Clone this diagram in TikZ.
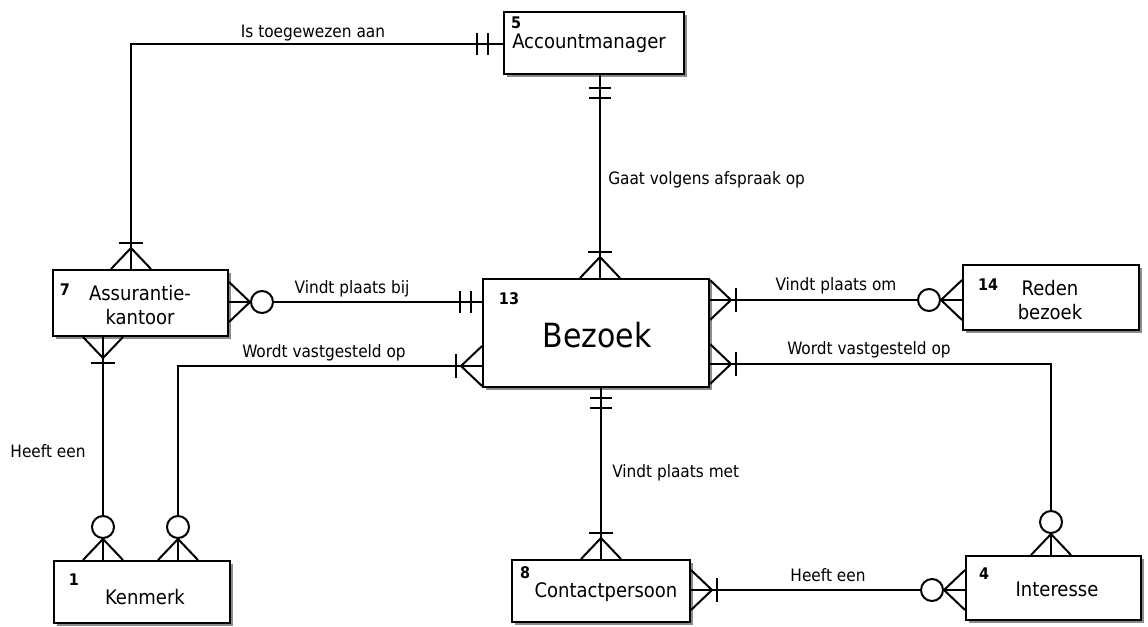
\documentclass[tikz,border=0pt]{standalone}
\usepackage{fontspec}
\setmainfont{DejaVu Sans Condensed}
\usetikzlibrary{shadows}

\tikzset{
  link/.style={line width=1.5pt},
  entity/.style={draw, fill=white, inner sep=0pt, line width=1.5pt,
    drop shadow={shadow xshift=2.6pt, shadow yshift=-2.6pt, fill=black!45, opacity=1}},
  boxsize/.style 2 args={minimum width=#1*0.75pt, minimum height=#2*0.75pt},
  ename/.style={font=\fontsize{15}{18}\selectfont, align=center, inner sep=0pt},
  enum/.style={font=\bfseries\fontsize{12}{14}\selectfont, inner sep=0pt},
  rel/.style={font=\fontsize{12.8}{15}\selectfont, inner sep=0pt},
  % crow's foot with a bar: one or many
  pics/manyone/.style={code={
    \draw[link] (0,-20) -- (21,0) -- (0,20);
    \draw[link] (26,-12) -- (26,12);}},
  % crow's foot with a circle: zero or many
  pics/manyzero/.style={code={
    \draw[link] (0,-20) -- (21,0) -- (0,20);
    \draw[link, fill=white] (33,0) circle[radius=8.25pt];}},
  % two bars: exactly one
  pics/onlyone/.style 2 args={code={
    \draw[link] (#1,-11) -- (#1,11);
    \draw[link] (#2,-11) -- (#2,11);}},
}

\begin{document}
\begin{tikzpicture}[x=0.75pt, y=-0.75pt]
\fill[white] (0,0) rectangle (1148,626);

% entities
\node[entity, boxsize={180}{62}]  (am) at (594,43) {};
\node[entity, boxsize={175}{66}]  (ak) at (140.5,303) {};
\node[entity, boxsize={226}{108}] (bz) at (596,333) {};
\node[entity, boxsize={176}{65}]  (rb) at (1051,297.5) {};
\node[entity, boxsize={176}{62}]  (km) at (142,592) {};
\node[entity, boxsize={178}{62}]  (cp) at (601,591) {};
\node[entity, boxsize={175}{64}]  (in) at (1053.5,588) {};

% entity numbers and names
\node[enum] (am-n) at (516,23) {5};
\node[ename, anchor=west] (am-t) at (512,43) {Accountmanager};
\node[enum] (ak-n) at (65,290) {7};
\node[ename] (ak-t) at (140,305) {Assurantie-\\kantoor};
\node[enum] (bz-n) at (509,299) {13};
\node[font=\fontsize{25}{30}\selectfont, inner sep=0pt] (bz-t) at (597,335) {Bezoek};
\node[enum] (rb-n) at (988,285) {14};
\node[ename] (rb-t) at (1050,300) {Reden\\bezoek};
\node[enum] (km-n) at (74,580) {1};
\node[ename] (km-t) at (145,597) {Kenmerk};
\node[enum] (cp-n) at (525,573) {8};
\node[ename] (cp-t) at (606,592) {Contactpersoon};
\node[enum] (in-n) at (984,574) {4};
\node[ename] (in-t) at (1057,589) {Interesse};

% bend points and line positions
\coordinate (c1) at (131,44);
\coordinate (c2) at (600,0);
\coordinate (c3) at (0,302);
\coordinate (c4) at (178,366);
\coordinate (c5) at (103,0);
\coordinate (c6) at (0,300);
\coordinate (c7) at (1051,364);
\coordinate (c8) at (601,0);
\coordinate (c9) at (0,590);

% Accountmanager - Assurantiekantoor
\draw[link] (am.west |- c1) -- (c1) -- (ak.north -| c1);
\pic[rotate=180] at (am.west |- c1) {onlyone={15}{26}};
\pic[rotate=90] at (ak.north -| c1) {manyone};
\node[rel] (l1) at (313,33) {Is toegewezen aan};

% Accountmanager - Bezoek
\draw[link] (am.south -| c2) -- (bz.north -| c2);
\pic[rotate=-90] at (am.south -| c2) {onlyone={13}{23}};
\pic[rotate=90] at (bz.north -| c2) {manyone};
\node[rel, anchor=west] (l2) at (608,180) {Gaat volgens afspraak op};

% Assurantiekantoor - Bezoek
\draw[link] (ak.east |- c3) -- (bz.west |- c3);
\pic at (ak.east |- c3) {manyzero};
\pic[rotate=180] at (bz.west |- c3) {onlyone={11}{22}};
\node[rel] (l3) at (352,289) {Vindt plaats bij};

% Bezoek - Kenmerk
\draw[link] (bz.west |- c4) -- (c4) -- (km.north -| c4);
\pic[rotate=180] at (bz.west |- c4) {manyone};
\pic[rotate=90] at (km.north -| c4) {manyzero};
\node[rel] (l4) at (324,353) {Wordt vastgesteld op};

% Assurantiekantoor - Kenmerk
\draw[link] (ak.south -| c5) -- (km.north -| c5);
\pic[rotate=-90] at (ak.south -| c5) {manyone};
\pic[rotate=90] at (km.north -| c5) {manyzero};
\node[rel] (l5) at (48,451) {Heeft een};

% Bezoek - Reden bezoek
\draw[link] (bz.east |- c6) -- (rb.west |- c6);
\pic at (bz.east |- c6) {manyone};
\pic[rotate=180] at (rb.west |- c6) {manyzero};
\node[rel] (l6) at (836,286) {Vindt plaats om};

% Bezoek - Interesse
\draw[link] (bz.east |- c7) -- (c7) -- (in.north -| c7);
\pic at (bz.east |- c7) {manyone};
\pic[rotate=90] at (in.north -| c7) {manyzero};
\node[rel] (l7) at (869,350) {Wordt vastgesteld op};

% Bezoek - Contactpersoon
\draw[link] (bz.south -| c8) -- (cp.north -| c8);
\pic[rotate=-90] at (bz.south -| c8) {onlyone={10}{20}};
\pic[rotate=90] at (cp.north -| c8) {manyone};
\node[rel, anchor=west] (l8) at (612,473) {Vindt plaats met};

% Contactpersoon - Interesse
\draw[link] (cp.east |- c9) -- (in.west |- c9);
\pic at (cp.east |- c9) {manyone};
\pic[rotate=180] at (in.west |- c9) {manyzero};
\node[rel] (l9) at (828,575) {Heeft een};
\end{tikzpicture}
\end{document}
